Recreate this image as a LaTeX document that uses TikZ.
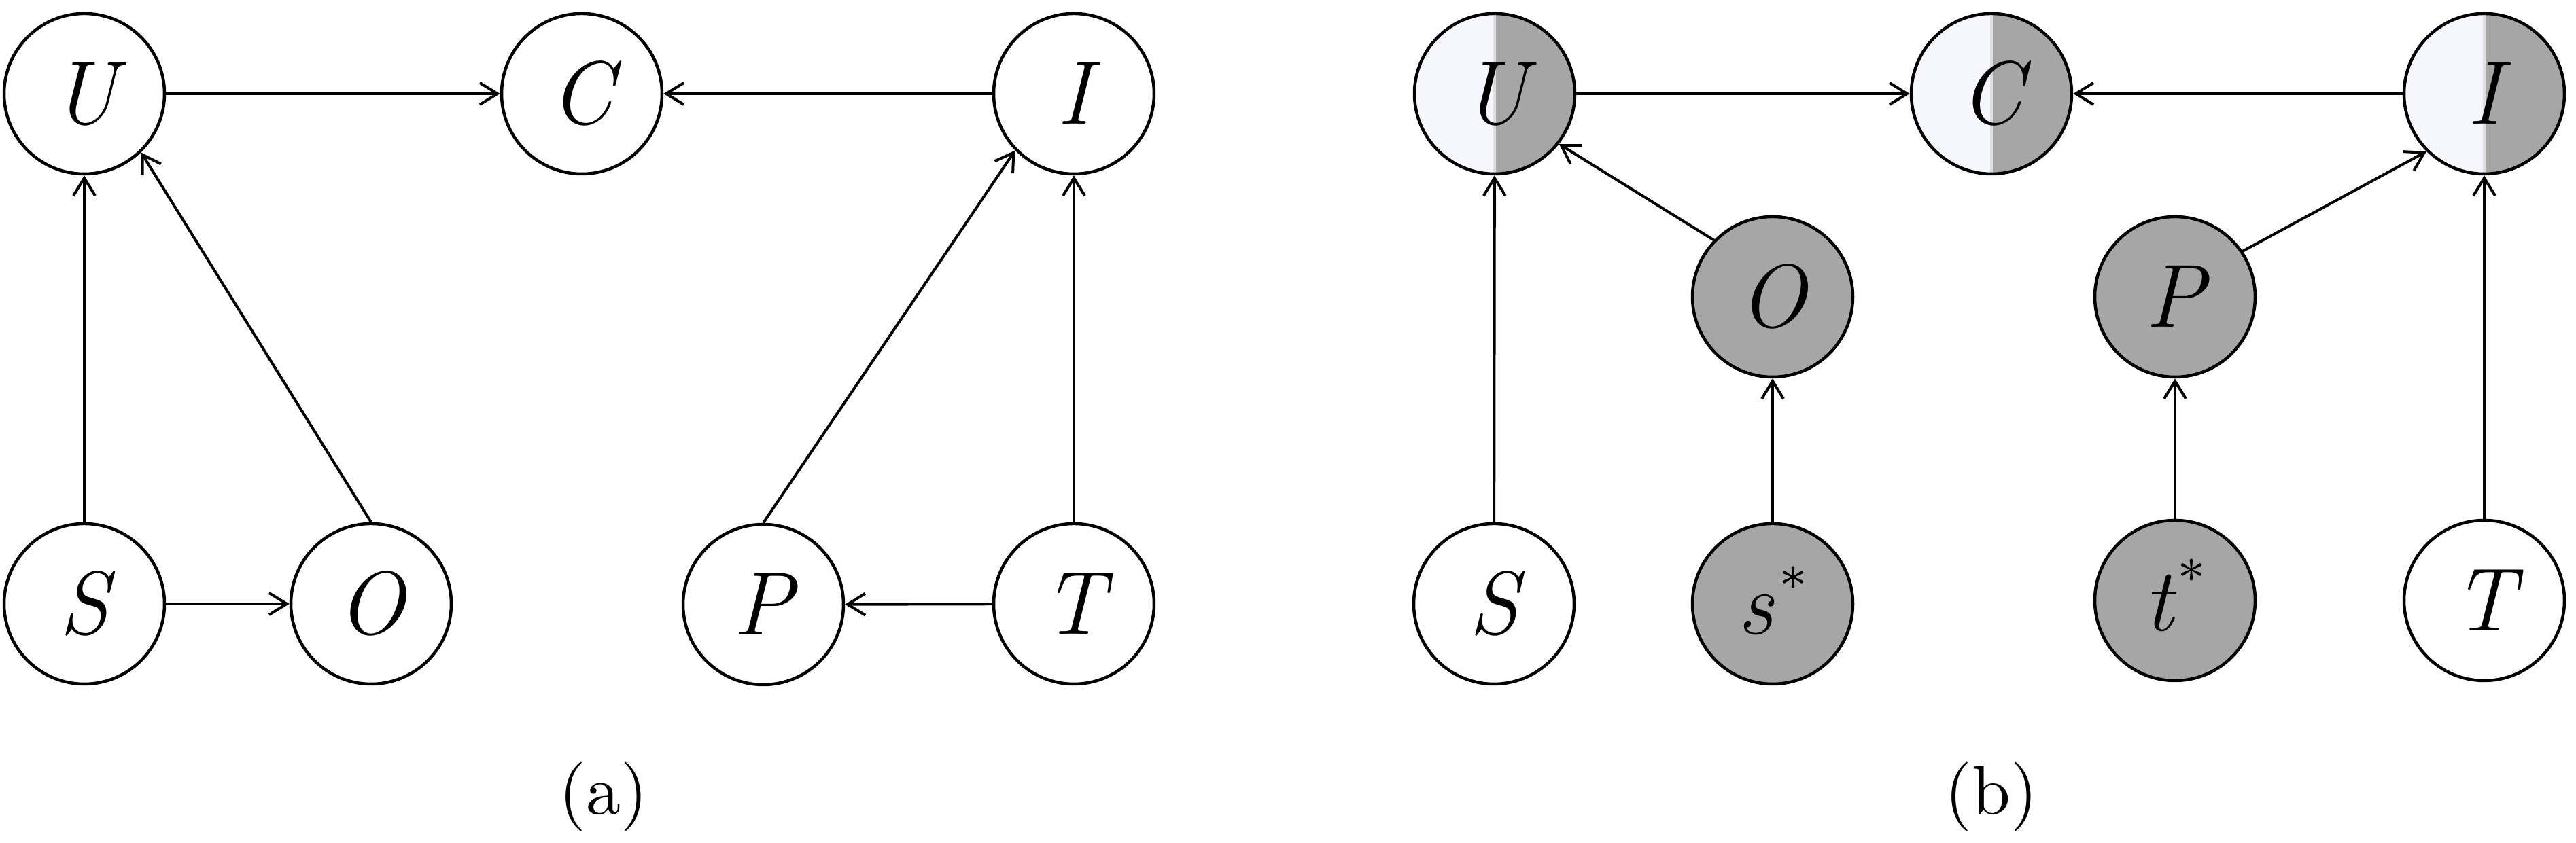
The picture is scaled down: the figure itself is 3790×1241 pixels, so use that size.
\documentclass[tikz,border=0pt]{standalone}
\usepackage{fontspec}
\usetikzlibrary{arrows.meta}
\definecolor{halflight}{RGB}{245,247,252}
\definecolor{darkfill}{RGB}{166,166,166}
\definecolor{splitline}{RGB}{222,222,226}
\begin{document}
\begin{tikzpicture}[x=0.1pt,y=-0.1pt,
  var/.style={circle,draw,line width=0.45pt,minimum size=23.6pt,inner sep=0pt,
    font=\rmfamily\fontsize{13.2}{14}\selectfont\itshape,text height=9pt,text depth=0pt},
  whitenode/.style={var,fill=white},
  graynode/.style={var,fill=darkfill},
  halfnode/.style={var,path picture={
     \fill[halflight] (path picture bounding box.south west) rectangle (path picture bounding box.north);
     \fill[darkfill] (path picture bounding box.south) rectangle (path picture bounding box.north east);
     \draw[splitline,line width=0.35pt] (path picture bounding box.south) -- (path picture bounding box.north);
  }},
  edge/.style={-{Straight Barb[length=2.6pt,width=3.2pt]},line width=0.4pt},
  caption/.style={font=\rmfamily\fontsize{10.2}{12}\selectfont}]
\useasboundingbox (0,0) rectangle (3790,1241);
% (a)
\node[whitenode] (aU) at (124,138) {U};
\node[whitenode] (aC) at (856,138) {C};
\node[whitenode] (aI) at (1580,138) {I};
\node[whitenode] (aS) at (124,889) {S};
\node[whitenode] (aO) at (546,889) {O};
\node[whitenode] (aP) at (1123,890) {P};
\node[whitenode] (aT) at (1580,889) {T};
\draw[edge] (aU) -- (aC);
\draw[edge] (aI) -- (aC);
\draw[edge] (aS) -- (aU);
\draw[edge] (aO.north) -- (aU.-46);
\draw[edge] (aS) -- (aO);
\draw[edge] (aT) -- (aP);
\draw[edge] (aT) -- (aI);
\draw[edge] (aP.north) -- (aI.-136);
\node[caption] (capa) at (888,1173) {(a)};
% (b)
\node[halfnode] (bU) at (2199,138) {U};
\node[halfnode] (bC) at (2930,138) {C};
\node[halfnode] (bI) at (3655,138) {I};
\node[graynode] (bO) at (2608,437) {O};
\node[graynode] (bP) at (3200,437) {P};
\node[whitenode] (bS) at (2198,889) {S};
\node[graynode] (bs) at (2608,889) {s\kern0.8pt\raisebox{4.4pt}{\fontsize{7.4}{8}\selectfont\upshape *}};
\node[graynode] (bt) at (3200,884) {t\kern0.6pt\raisebox{5.0pt}{\fontsize{7.4}{8}\selectfont\upshape *}};
\node[whitenode] (bT) at (3655,884) {T};
\draw[edge] (bU) -- (bC);
\draw[edge] (bI) -- (bC);
\draw[edge] (bS) -- (bU);
\draw[edge] (bO.136) -- (bU.-38);
\draw[edge] (bs) -- (bO);
\draw[edge] (bt) -- (bP);
\draw[edge] (bP.34) -- (bI.-135);
\draw[edge] (bT) -- (bI);
\node[caption] (capb) at (2930,1173) {(b)};
\end{tikzpicture}
\end{document}
